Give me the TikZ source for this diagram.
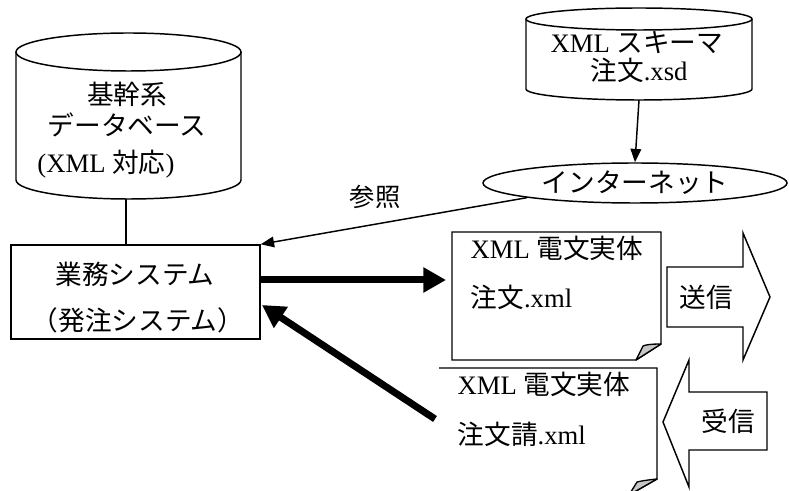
\documentclass[tikz,border=0pt]{standalone}
\usepackage{fontspec}
\setmainfont{Liberation Serif}
\newfontfamily\jp{Noto Sans CJK JP}
\usetikzlibrary{arrows.meta,shapes.geometric}
\tikzset{
  lbl/.style={font=\fontsize{20}{24}\selectfont, inner sep=0pt, align=center},
  smalllbl/.style={font=\fontsize{19}{22}\selectfont, inner sep=0pt},
  conn/.style={line width=1.1pt, -{Triangle[length=10pt,width=8pt]}},
  bigconn/.style={line width=5.25pt, -{Triangle[length=17pt,width=18pt]}},
  fold/.style={fill=gray!45, draw, line width=1pt, line join=round},
  bigarrow/.style={draw, fill=white, line width=1.1pt, line join=miter},
}
\begin{document}
\begin{tikzpicture}[x=0.75pt, y=-0.75pt, line width=1.1pt]
\useasboundingbox (0,0) rectangle (789,491);
\begin{scope}
\clip (0,0) rectangle (789,491);

% core database cylinder
\draw (16,52) -- (16,180) arc[start angle=180, end angle=0, x radius=112.5, y radius=19] -- (241,52);
\draw (128.5,52) ellipse[x radius=112.5, y radius=19];
\coordinate (dbbot) at (126,199);
\node[lbl] (db1) at (127,94) {\jp 基幹系};
\node[lbl] (db2) at (127,125) {\jp データベース};
\node[lbl] (db3) at (106,164) {(XML {\jp 対応})};

% schema cylinder
\draw (526,19) -- (526,89) arc[start angle=180, end angle=0, x radius=113, y radius=11] -- (752,19);
\draw (639,19) ellipse[x radius=113, y radius=11];
\coordinate (xsdbot) at (639,100);
\node[lbl] (xsd1) at (637,42.5) {XML {\jp スキーマ}};
\node[lbl] (xsd2) at (639,70.5) {{\jp 注文}.xsd};

% internet
\node[draw, ellipse, minimum width=228pt, minimum height=30pt, inner sep=0pt,
      font=\fontsize{20}{24}\selectfont] (inet) at (635,183) {\jp インターネット};
\draw[conn] (xsdbot) -- (inet.north);

% business system
\node[draw, minimum width=186.75pt, minimum height=70.5pt, inner sep=0pt] (sys) at (135.5,292) {};
\node[lbl] (sys1) at (135,274) {\jp 業務システム};
\node[lbl] (sys2) at (138,320) {\jp （発注システム）};
\draw (dbbot) -- (sys.north -| dbbot);

% reference link
\draw[conn] (inet.south west) -- (sys.north east);
\node[smalllbl] (ref) at (375,197) {\jp 参照};

% outgoing document with curled corner
\draw[fill=white] (452,232) -- (661,232) -- (661,344) -- (636,360) -- (452,360) -- cycle;
\draw[fold] (661,344) .. controls (650,344) and (645,345) .. (643,346) -- (636,360) -- cycle;
\node[lbl, anchor=west] (d1a) at (470,248) {XML {\jp 電文実体}};
\node[lbl, anchor=west] (d1b) at (470,297) {{\jp 注文}.xml};

% incoming document with curled corner
\draw[fill=white] (439,368) -- (657,368) -- (657,479) -- (629,495) -- (439,495);
\draw[fold] (657,479) .. controls (647,480) and (641,481) .. (637,482) -- (629,495) -- cycle;
\node[lbl, anchor=west] (d2a) at (457,384) {XML {\jp 電文実体}};
\node[lbl, anchor=west] (d2b) at (457,434) {{\jp 注文請}.xml};

% data flows
\coordinate (outA) at (260,280);
\coordinate (outB) at (446,280);
\draw[bigconn] (outA) -- (outB);
\coordinate (inA) at (435,419);
\coordinate (inB) at (262,305);
\draw[bigconn] (inA) -- (inB);

% send / receive block arrows
\draw[bigarrow] (667,267) -- (743,267) -- (743,233) -- (770,297) -- (743,360) -- (743,327) -- (667,327) -- cycle;
\node[lbl] (send) at (706,297) {\jp 送信};
\draw[bigarrow] (663,422) -- (689,360) -- (689,392) -- (767,392) -- (767,450) -- (689,450) -- (689,487) -- cycle;
\node[lbl] (recv) at (728,421) {\jp 受信};
\end{scope}
\end{tikzpicture}
\end{document}
